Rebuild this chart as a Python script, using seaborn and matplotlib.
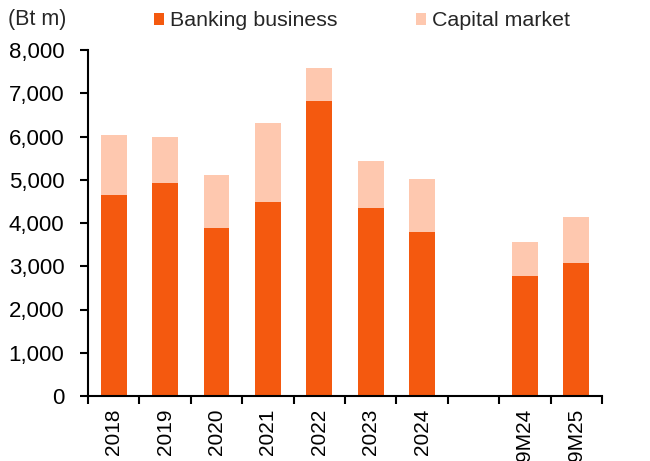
import matplotlib
matplotlib.use("Agg")
import matplotlib.pyplot as plt
import seaborn as sns
import pandas as pd
import numpy as np
from matplotlib.ticker import FuncFormatter, FixedLocator
from matplotlib.patches import Patch

categories = ["2018", "2019", "2020", "2021", "2022", "2023", "2024", "9M24", "9M25"]
order = ["2018", "2019", "2020", "2021", "2022", "2023", "2024", " ", "9M24", "9M25"]
banking = [4655, 4930, 3885, 4490, 6820, 4355, 3790, 2775, 3070]
capital = [1380, 1050, 1225, 1815, 770, 1080, 1225, 785, 1065]
series_names = ["Banking business", "Capital market"]
yticks = [0, 1000, 2000, 3000, 4000, 5000, 6000, 7000, 8000]

c_bank = "#F4590F"
c_cap = "#FEC8AF"

sns.set_theme(style="white")
plt.rcParams["font.family"] = ["Liberation Sans", "DejaVu Sans"]

df = pd.DataFrame({"cat": categories, "banking": banking, "capital": capital})
df["total"] = df["banking"] + df["capital"]

fig = plt.figure(figsize=(6.5, 4.61), dpi=100)
ax = fig.add_axes([88 / 650, 1 - 396 / 461, (602 - 88) / 650, (396 - 50) / 461])

sns.barplot(data=df, x="cat", y="total", order=order, color=c_cap, width=0.5,
            saturation=1, ax=ax, linewidth=0)
sns.barplot(data=df, x="cat", y="banking", order=order, color=c_bank, width=0.5,
            saturation=1, ax=ax, linewidth=0)

ax.set_ylim(0, 8000)
ax.set_xlim(-0.5, len(order) - 0.5)
ax.set_yticks(yticks)
ax.yaxis.set_major_formatter(FuncFormatter(lambda v, p: f"{int(v):,}"))
ax.set_xlabel("")
ax.set_ylabel("")

# x ticks: marks at boundaries, labels at centers
ax.xaxis.set_major_locator(FixedLocator(np.arange(-0.5, len(order), 1.0)))
ax.xaxis.set_minor_locator(FixedLocator(np.arange(0, len(order))))
ax.xaxis.set_major_formatter(FuncFormatter(lambda v, p: ""))
ax.xaxis.set_minor_formatter(FuncFormatter(
    lambda v, p: order[int(round(v))] if 0 <= int(round(v)) < len(order) else ""))
ax.tick_params(axis="x", which="minor", bottom=True, length=0, labelsize=15,
               labelrotation=90, pad=9, colors="black")
ax.tick_params(axis="x", which="major", bottom=True, length=6, width=1.5,
               direction="out", colors="black")
ax.tick_params(axis="y", left=True, length=6, width=1.5, direction="out",
               labelsize=16, pad=11, colors="black")
for lbl in ax.xaxis.get_minorticklabels():
    lbl.set_va("top")

sns.despine(ax=ax, top=True, right=True)
for s in ["left", "bottom"]:
    ax.spines[s].set_color("black")
    ax.spines[s].set_linewidth(1.5)

handles = [Patch(facecolor=c_bank, edgecolor="none"), Patch(facecolor=c_cap, edgecolor="none")]
fig.legend(handles, series_names, loc="center", bbox_to_anchor=(362 / 650, 1 - 21 / 461),
           ncol=2, frameon=False, fontsize=15.4, handlelength=0.47, handleheight=0.5,
           handletextpad=0.26, columnspacing=3.7, borderpad=0)

fig.text(8 / 650, 1 - 20 / 461, "(Bt m)", fontsize=15.5, va="center", ha="left")

fig.savefig("out.png", dpi=100)
